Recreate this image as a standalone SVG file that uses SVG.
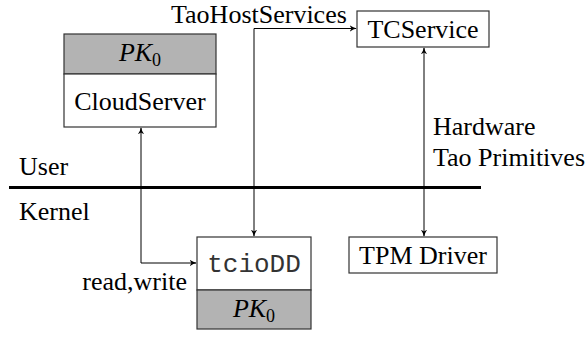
<svg xmlns="http://www.w3.org/2000/svg" width="587" height="337" viewBox="0 0 587 337">
<style>
text{font-size:26px;fill:#000}
.t{font-family:"Liberation Serif","Times New Roman",serif}
.m{font-family:"Liberation Mono","Courier New",monospace;fill:#333}
.i{font-style:italic}
.box{fill:#fff;stroke:#333;stroke-width:1.2}
.sh{fill:#b3b3b3;stroke:#333;stroke-width:1.2}
.c{fill:none;stroke:#000;stroke-width:1}
</style>
<defs>
<marker id="ah" viewBox="0 0 10 10" refX="9" refY="5" markerWidth="7" markerHeight="7" markerUnits="userSpaceOnUse" orient="auto-start-reverse">
<path d="M0,0.5 Q5,4 10,5 Q5,6 0,9.5 L2.5,5 Z" fill="#000"/>
</marker>
</defs>
<g id="divider">
<line x1="9" y1="187.5" x2="481" y2="187.5" stroke="#000" stroke-width="3"/>
<text class="t" x="19" y="175">User</text>
<text class="t" x="19" y="220">Kernel</text>
</g>
<g id="connectors">
<path class="c" d="M141,128 V263 H196" marker-start="url(#ah)" marker-end="url(#ah)"/>
<path class="c" d="M254,236 V28.5 H356" marker-start="url(#ah)" marker-end="url(#ah)"/>
<path class="c" d="M424,48 V236" marker-start="url(#ah)" marker-end="url(#ah)"/>
<text class="t" x="171" y="23" font-size="25.5">TaoHostServices</text>
<text class="t" x="433" y="135">Hardware</text>
<text class="t" x="433" y="166">Tao Primitives</text>
<text class="t" x="187" y="290" text-anchor="end">read,write</text>
</g>
<g id="cloudserver">
<rect class="sh" x="64" y="34" width="152" height="40"/>
<rect class="box" x="64" y="74" width="152" height="53"/>
<text class="t i" x="140" y="61" text-anchor="middle">PK<tspan font-style="normal" font-size="18" dy="5">0</tspan></text>
<text class="t" x="140" y="110" text-anchor="middle">CloudServer</text>
</g>
<g id="tciodd">
<rect class="box" x="197" y="237" width="114" height="53"/>
<rect class="sh" x="197" y="290" width="114" height="39"/>
<text class="m" x="254" y="272" text-anchor="middle">tcioDD</text>
<text class="t i" x="254" y="317" text-anchor="middle">PK<tspan font-style="normal" font-size="18" dy="5">0</tspan></text>
</g>
<g id="tcservice">
<rect class="box" x="357" y="11" width="132" height="36"/>
<text class="t" x="423" y="38" text-anchor="middle">TCService</text>
</g>
<g id="tpmdriver">
<rect class="box" x="349" y="237" width="148" height="36"/>
<text class="t" x="423" y="264" text-anchor="middle">TPM Driver</text>
</g>
</svg>
